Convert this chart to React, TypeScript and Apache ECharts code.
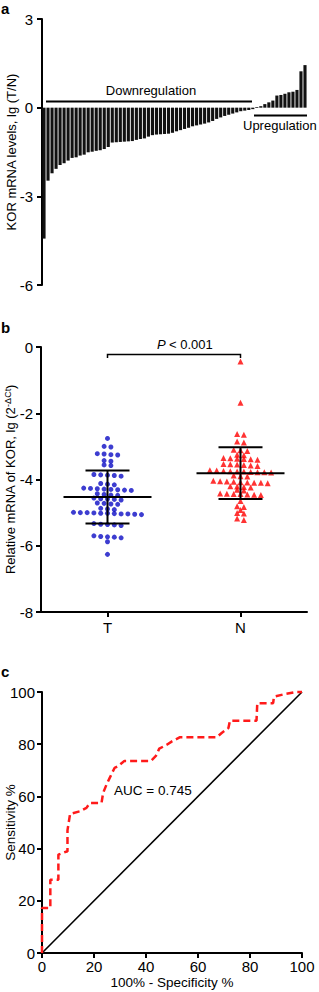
import React, { useEffect, useRef } from "react";
import * as echarts from "echarts";

const W = 319;
const H = 992;
const FONT = "'Liberation Sans', Arial, Helvetica, sans-serif";

// ---------- Panel a: lg(T/N) per sample (sorted) ----------
const foldChanges = [
  -4.43, -2.47, -2.22, -2.07, -1.94, -1.88, -1.79, -1.70, -1.68, -1.62,
  -1.59, -1.51, -1.49, -1.46, -1.44, -1.40, -1.33, -1.18, -1.17, -1.16,
  -1.15, -1.14, -1.13, -1.09, -1.06, -1.04, -0.98, -0.93, -0.91, -0.90,
  -0.89, -0.88, -0.85, -0.80, -0.76, -0.72, -0.68, -0.63, -0.60, -0.57,
  -0.54, -0.50, -0.45, -0.38, -0.33, -0.28, -0.24, -0.20, -0.16, -0.12,
  -0.10, -0.08, -0.05, 0.02, 0.05, 0.12, 0.18, 0.24, 0.41, 0.43,
  0.47, 0.52, 0.54, 0.60, 1.23, 1.44,
];
const sampleIds = foldChanges.map((_, i) => String(i + 1));
const yTicksA = [-6, -3, 0, 3];
const downLabel = "Downregulation";
const upLabel = "Upregulation";

// ---------- Panel b: lg(2^-ΔCt) ----------
const groupNames = ["T", "N"];
const tumorValues = [
  -2.76,
  -3.0, -3.02,
  -3.22, -3.23, -3.25, -3.26,
  -3.43, -3.45,
  -3.56, -3.58,
  -3.85, -3.86, -3.87, -3.88, -3.9,
  -4.12, -4.14, -4.16,
  -4.26, -4.27, -4.28, -4.29, -4.3, -4.31, -4.32, -4.33,
  -4.43, -4.45, -4.47, -4.48,
  -4.56, -4.58, -4.59, -4.6, -4.62,
  -4.71, -4.72, -4.74, -4.75,
  -4.87, -4.89, -4.91,
  -4.99, -5.0, -5.0, -5.01, -5.02, -5.02, -5.03, -5.04, -5.04, -5.05, -5.06,
  -5.33, -5.35, -5.36, -5.37, -5.39,
  -5.7, -5.72, -5.73, -5.74, -5.76,
  -5.88,
  -6.26,
];
const normalValues = [
  -0.44,
  -1.68,
  -2.63, -2.65,
  -2.85, -2.88,
  -3.1, -3.12, -3.14,
  -3.25, -3.27,
  -3.35, -3.36, -3.37, -3.38, -3.39, -3.4,
  -3.53, -3.54, -3.55, -3.56, -3.58, -3.59,
  -3.72, -3.73, -3.74, -3.75, -3.76, -3.76, -3.77, -3.78, -3.78, -3.79,
  -3.88, -3.9, -3.91,
  -4.04, -4.05, -4.06, -4.07, -4.08, -4.09, -4.1, -4.1, -4.11,
  -4.2, -4.21, -4.23, -4.24,
  -4.31, -4.33,
  -4.42, -4.43, -4.44, -4.44, -4.45, -4.46, -4.47,
  -4.65,
  -4.81, -4.83,
  -4.92,
  -5.01, -5.03,
  -5.18, -5.22,
];
const groupMeans = [-4.53, -3.81];
const groupSDs = [0.8, 0.78];
const yTicksB = [-8, -6, -4, -2, 0];

// ---------- Panel c: ROC ----------
const rocFpr = [
  0, 0, 2.0, 3.2, 3.2, 6.3, 6.3, 9.5, 9.8, 9.8,
  10.8, 14.6, 17.1, 18.4, 22.9, 23.5, 24.8, 26.0, 27.9, 29.2,
  31.7, 41.9, 43.8, 45.1, 48.0, 50.0, 53.1, 67.2, 69.1, 71.7,
  72.3, 82.5, 82.8, 88.9, 89.2, 93.8, 97.6, 100,
];
const rocTpr = [
  0, 17.2, 17.2, 17.2, 28.1, 28.1, 37.7, 38.9, 38.9, 47.0,
  53.3, 54.3, 55.6, 57.5, 57.5, 61.3, 64.5, 67.0, 70.9, 71.5,
  73.6, 73.6, 75.5, 78.3, 79.8, 81.1, 82.7, 82.7, 84.3, 86.2,
  89.0, 89.0, 95.7, 95.7, 98.2, 99.3, 100, 100,
];
const refLine = [0, 100];
const aucText = "AUC = 0.745";

// ---------- layout ----------
const gridA = { left: 42, top: 19, width: 265, height: 266 };
const gridB = { left: 41, top: 347, width: 266, height: 265 };
const gridC = { left: 42, top: 692, width: 260, height: 261 };

function swarm(values: number[], center: number, stepUnits: number, rowThresh: number) {
  const sorted = [...values].sort((a, b) => b - a);
  const rows: number[][] = [];
  for (const v of sorted) {
    const r = rows[rows.length - 1];
    if (r && r[0] - v < rowThresh) r.push(v);
    else rows.push([v]);
  }
  const pts: number[][] = [];
  rows.forEach((r) =>
    r.forEach((v, i) => pts.push([center + (i - (r.length - 1) / 2) * stepUnits, v]))
  );
  return pts;
}

const axisLine = { show: true, onZero: false, lineStyle: { color: "#000", width: 2 } };
const axisTick = { show: true, length: 5, lineStyle: { color: "#000", width: 2 } };
const labelStyle = (margin: number) => ({ color: "#000", fontSize: 15, fontFamily: FONT, margin });
const nameStyle = (size: number) => ({ color: "#000", fontSize: size, fontFamily: FONT });

export default function App() {
  const ref = useRef<HTMLDivElement>(null);
  useEffect(() => {
    document.body.style.margin = "0";
    document.body.style.overflow = "hidden";
    const chart = echarts.init(ref.current!, undefined, { renderer: "svg", width: W, height: H });

    const pxPerUnitX = gridB.width / 2;
    const step = 6.8 / pxPerUnitX;
    const thresh = 0.085;
    const tPts = swarm(tumorValues, 0.5, step, thresh);
    const nPts = swarm(normalValues, 1.5, step, thresh);
    const statData = groupNames.map((_, i) => [i + 0.5, groupMeans[i], groupSDs[i]]);

    const xT = gridB.left + gridB.width * 0.25;
    const xN = gridB.left + gridB.width * 0.75;
    const brY = 354.5;

    const txt = (text: string, x: number, y: number, size: number, extra: any = {}) => ({
      type: "text",
      x,
      y,
      style: { text, fontSize: size, fontFamily: FONT, fill: "#000", align: "left", verticalAlign: "middle", ...extra },
    });

    const option: any = {
      animation: false,
      backgroundColor: "#fff",
      textStyle: { fontFamily: FONT },
      grid: [
        { ...gridA, containLabel: false, outerBoundsMode: "none" },
        { ...gridB, containLabel: false, outerBoundsMode: "none" },
        { ...gridC, containLabel: false, outerBoundsMode: "none" },
      ],
      xAxis: [
        { gridIndex: 0, type: "category", data: sampleIds, show: false },
        {
          gridIndex: 1,
          type: "category",
          position: "bottom",
          data: groupNames,
          boundaryGap: true,
          axisLine,
          axisTick: { ...axisTick, alignWithLabel: true },
          axisLabel: labelStyle(8),
          splitLine: { show: false },
        },
        {
          gridIndex: 1,
          type: "value",
          position: "bottom",
          min: 0,
          max: 2,
          show: false,
          axisLine: { show: false },
          axisTick: { show: false },
          axisLabel: { show: false },
          splitLine: { show: false },
        },
        {
          gridIndex: 2,
          type: "value",
          min: 0,
          max: 100,
          interval: 20,
          axisLine,
          axisTick,
          axisLabel: labelStyle(6),
          splitLine: { show: false },
          name: "100% - Specificity %",
          nameLocation: "middle",
          nameGap: 22,
          nameMoveOverlap: false,
          nameTextStyle: nameStyle(13.5),
        },
      ],
      yAxis: [
        {
          gridIndex: 0,
          type: "value",
          min: yTicksA[0],
          max: yTicksA[yTicksA.length - 1],
          interval: 3,
          axisLine,
          axisTick,
          axisLabel: labelStyle(9),
          splitLine: { show: false },
          name: "KOR mRNA levels, lg (T/N)",
          nameLocation: "middle",
          nameGap: 24,
          nameMoveOverlap: false,
          nameTextStyle: nameStyle(13),
        },
        {
          gridIndex: 1,
          type: "value",
          min: yTicksB[0],
          max: yTicksB[yTicksB.length - 1],
          interval: 2,
          axisLine,
          axisTick,
          axisLabel: labelStyle(8),
          splitLine: { show: false },
          name: "Relative mRNA of KOR, lg (2{sup|-ΔCt})",
          nameLocation: "middle",
          nameGap: 23,
          nameMoveOverlap: false,
          nameTextStyle: {
            ...nameStyle(13),
            rich: { sup: { fontSize: 9, fontFamily: FONT, color: "#000", verticalAlign: "top", lineHeight: 15 } },
          },
        },
        {
          gridIndex: 2,
          type: "value",
          min: 0,
          max: 100,
          interval: 20,
          axisLine,
          axisTick,
          axisLabel: labelStyle(7),
          splitLine: { show: false },
          name: "Sensitivity %",
          nameLocation: "middle",
          nameGap: 25,
          nameMoveOverlap: false,
          nameTextStyle: nameStyle(13.5),
        },
      ],
      series: [
        {
          type: "bar",
          xAxisIndex: 0,
          yAxisIndex: 0,
          data: foldChanges,
          barCategoryGap: "22%",
          itemStyle: { color: "#111" },
        },
        {
          type: "scatter",
          xAxisIndex: 2,
          yAxisIndex: 1,
          data: tPts,
          symbol: "circle",
          symbolSize: 5,
          itemStyle: { color: "#0c0cc4" },
          z: 2,
        },
        {
          type: "scatter",
          xAxisIndex: 2,
          yAxisIndex: 1,
          data: nPts,
          symbol: "triangle",
          symbolSize: 6,
          itemStyle: { color: "#ff0000" },
          z: 2,
        },
        {
          type: "custom",
          xAxisIndex: 2,
          yAxisIndex: 1,
          data: statData,
          z: 5,
          renderItem: (params: any, api: any) => {
            const x = api.value(0);
            const m = api.value(1);
            const sd = api.value(2);
            const c = api.coord([x, m]);
            const t = api.coord([x, m + sd]);
            const b = api.coord([x, m - sd]);
            const st = { stroke: "#000", lineWidth: 2 };
            return {
              type: "group",
              children: [
                { type: "line", shape: { x1: c[0] - 44, y1: c[1], x2: c[0] + 44, y2: c[1] }, style: st },
                { type: "line", shape: { x1: c[0], y1: t[1], x2: c[0], y2: b[1] }, style: st },
                { type: "line", shape: { x1: c[0] - 22, y1: t[1], x2: c[0] + 22, y2: t[1] }, style: st },
                { type: "line", shape: { x1: c[0] - 22, y1: b[1], x2: c[0] + 22, y2: b[1] }, style: st },
              ],
            };
          },
        },
        {
          type: "line",
          xAxisIndex: 3,
          yAxisIndex: 2,
          data: [
            [refLine[0], refLine[0]],
            [refLine[1], refLine[1]],
          ],
          symbol: "none",
          lineStyle: { color: "#000", width: 1.6 },
          clip: false,
          z: 3,
        },
        {
          type: "line",
          xAxisIndex: 3,
          yAxisIndex: 2,
          data: rocFpr.map((f, i) => [f, rocTpr[i]]),
          symbol: "none",
          lineStyle: { color: "#ff1a1a", width: 2.5, type: [7, 4] },
          clip: false,
          z: 4,
        },
      ],
      graphic: [
        txt("a", 1, 8, 15, { fontWeight: "bold" }),
        txt("b", 1, 327, 15, { fontWeight: "bold" }),
        txt("c", 1, 671, 15, { fontWeight: "bold" }),
        txt(downLabel, 151, 90, 13, { align: "center" }),
        { type: "line", shape: { x1: 46, y1: 101.5, x2: 252, y2: 101.5 }, style: { stroke: "#000", lineWidth: 2 } },
        txt(upLabel, 243, 125, 13),
        { type: "line", shape: { x1: 254, y1: 115.5, x2: 307, y2: 115.5 }, style: { stroke: "#000", lineWidth: 2 } },
        {
          type: "polyline",
          shape: { points: [[xT, brY + 3.5], [xT, brY], [xN, brY], [xN, brY + 3.5]] },
          style: { stroke: "#000", lineWidth: 1.5, fill: null },
        },
        txt("P", 157, 344, 13, { fontStyle: "italic" }),
        txt("< 0.001", 169, 344, 13),
        txt(aucText, 114, 790, 13.5),
      ],
    };

    chart.setOption(option);
    return () => chart.dispose();
  }, []);
  return <div ref={ref} style={{ width: W, height: H }} />;
}
